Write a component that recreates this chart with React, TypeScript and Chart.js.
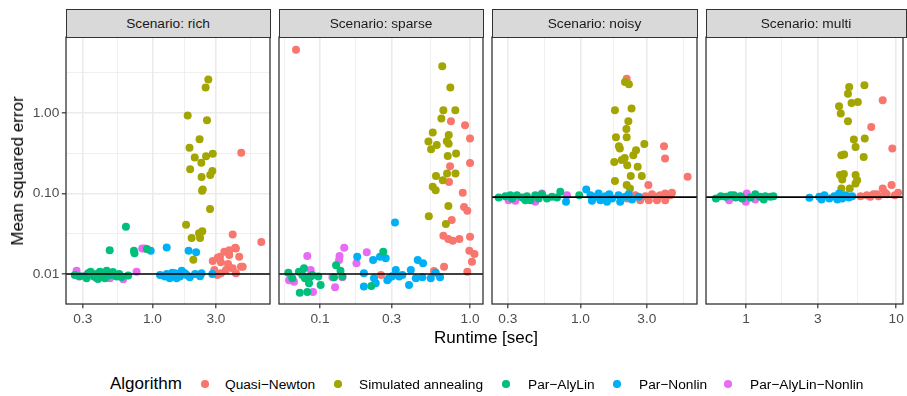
import React, { useEffect, useRef } from "react";
import { Chart, registerables } from "chart.js";
Chart.register(...registerables);

type Pt = [number, number];

const FONT = "'Liberation Sans', Arial, Helvetica, sans-serif";

const ALGORITHMS = ["Quasi−Newton", "Simulated annealing", "Par−AlyLin", "Par−Nonlin", "Par−AlyLin−Nonlin"];
const COLORS = ["#F8766D", "#A3A500", "#00BF7D", "#00B0F6", "#E76BF3"];
const DRAW_ORDER = [4, 3, 1, 2, 5];
const SCENARIOS = ["Scenario: rich", "Scenario: sparse", "Scenario: noisy", "Scenario: multi"];
const REFERENCE_MSE = [0.01, 0.01, 0.09, 0.09];

const Y_MIN = 0.00425;
const Y_MAX = 8.74;
const Y_MAJOR = [0.01, 0.1, 1];
const Y_LABELS = ["0.01", "0.10", "1.00"];
const Y_MINOR = [0.0316, 0.316, 3.16];

const X_MIN = [0.224, 0.0533, 0.231, 0.54];
const X_MAX = [7.65, 1.22, 6.89, 11.1];
const X_MAJOR = [[0.3, 1, 3], [0.1, 0.3, 1], [0.3, 1, 3], [1, 3, 10]];
const X_LABELS = [["0.3", "1.0", "3.0"], ["0.1", "0.3", "1.0"], ["0.3", "1.0", "3.0"], ["1", "3", "10"]];
const X_MINOR = [[0.548, 1.73, 5.48], [0.0578, 0.173, 0.548], [0.548, 1.73, 5.48], [1.73, 5.48]];

// ---- rich ----
const richQN: Pt[] = [[4.65,0.32],[6.58,0.025],[4.01,0.031],[4.19,0.0212],[3.78,0.0198],[4.49,0.0164],[3.09,0.0159],[2.84,0.0145],[3.27,0.014],[4.63,0.0123],[4.01,0.0118],[3.57,0.0112],[2.92,0.0112],[3.27,0.0102],[4.24,0.0102],[3.78,0.0172],[3.47,0.0189],[3.07,0.0097],[4.24,0.0208],[4.77,0.0123],[3.22,0.0164],[3.7,0.0133]];
const richSA: Pt[] = [[2.63,2.59],[2.51,2.06],[1.84,0.93],[2.57,0.81],[2.26,0.47],[1.9,0.37],[2.08,0.28],[2.33,0.24],[2.53,0.29],[2.84,0.31],[1.92,0.2],[2.82,0.19],[2.72,0.17],[2.34,0.16],[2.36,0.108],[2.39,0.112],[2.71,0.064],[1.79,0.041],[2.37,0.034],[1.97,0.028],[2.28,0.028],[2.03,0.015],[2.24,0.032]];
const richAlyLin: Pt[] = [[0.261,0.0097],[0.285,0.0094],[0.32,0.0089],[0.329,0.0102],[0.343,0.0107],[0.363,0.0093],[0.38,0.01],[0.403,0.0107],[0.415,0.0093],[0.44,0.0089],[0.453,0.011],[0.479,0.0097],[0.505,0.0106],[0.523,0.0096],[0.538,0.0093],[0.563,0.01],[0.59,0.0092],[0.658,0.0096],[0.39,0.0087],[0.632,0.0386],[0.477,0.0198],[0.726,0.0195],[0.733,0.0181],[0.909,0.0204]];
const richNonlin: Pt[] = [[1.28,0.0214],[0.97,0.0195],[1.87,0.0195],[2.13,0.0186],[2.82,0.01],[1.14,0.0097],[1.24,0.0093],[1.28,0.01],[1.35,0.0089],[1.41,0.0104],[1.48,0.0102],[1.52,0.0089],[1.61,0.0093],[1.66,0.011],[1.75,0.0102],[1.81,0.0097],[1.91,0.0091],[2.09,0.01],[2.28,0.0094],[2.34,0.0102]];
const richAlyLinNonlin: Pt[] = [[0.269,0.011],[0.38,0.0089],[0.603,0.0086],[0.76,0.0107],[0.838,0.0208],[0.878,0.0208],[0.28,0.0093],[0.479,0.0089],[0.57,0.0093],[0.31,0.0095],[0.43,0.0091]];

// ---- sparse ----
const sparseQN: Pt[] = [[0.0692,6.08],[0.746,0.787],[0.926,0.7],[1.0,0.48],[0.736,0.218],[1.0,0.239],[0.724,0.139],[0.894,0.102],[0.912,0.068],[0.959,0.061],[0.755,0.0467],[0.664,0.0298],[0.716,0.0272],[0.767,0.0259],[0.849,0.0272],[1.0,0.029],[0.989,0.0195],[1.07,0.0177],[1.03,0.0142],[0.671,0.0123],[0.959,0.0107],[0.255,0.0097],[0.575,0.0109]];
const sparseSA: Pt[] = [[0.653,3.78],[0.739,2.06],[0.664,1.08],[0.798,1.08],[0.644,0.85],[0.564,0.57],[0.721,0.53],[0.528,0.44],[0.6,0.4],[0.7,0.445],[0.55,0.354],[0.72,0.415],[0.807,0.313],[0.71,0.292],[0.593,0.165],[0.658,0.146],[0.703,0.177],[0.8,0.177],[0.564,0.121],[0.59,0.11],[0.717,0.07],[0.531,0.052],[0.69,0.0417]];
const sparseAlyLin: Pt[] = [[0.0615,0.0104],[0.0654,0.0089],[0.0724,0.0107],[0.0782,0.0118],[0.0794,0.0089],[0.0733,0.00586],[0.0845,0.00767],[0.0889,0.0097],[0.0975,0.0093],[0.101,0.0073],[0.0823,0.006],[0.0867,0.0093],[0.0762,0.0097],[0.128,0.0129],[0.124,0.0091],[0.137,0.011],[0.141,0.0093],[0.264,0.0189],[0.22,0.0071]];
const sparseNonlin: Pt[] = [[0.316,0.0437],[0.177,0.0164],[0.226,0.0149],[0.251,0.0164],[0.274,0.0157],[0.448,0.0149],[0.486,0.0136],[0.196,0.0102],[0.229,0.0089],[0.196,0.007],[0.235,0.0077],[0.288,0.0089],[0.32,0.0112],[0.354,0.0097],[0.403,0.0112],[0.392,0.0073],[0.435,0.0089],[0.481,0.0091],[0.547,0.0089],[0.591,0.0104],[0.631,0.0091],[0.281,0.0084],[0.303,0.0094],[0.337,0.0093]];
const sparseAlyLinNonlin: Pt[] = [[0.0823,0.0167],[0.135,0.0167],[0.145,0.0212],[0.205,0.0186],[0.175,0.0136],[0.134,0.0149],[0.0671,0.00803],[0.0898,0.006],[0.126,0.00684],[0.121,0.0091],[0.141,0.0091],[0.0622,0.0084],[0.0867,0.0112]];

// ---- noisy ----
const noisyQN: Pt[] = [[2.15,2.66],[3.99,0.386],[4.06,0.272],[5.9,0.161],[3.08,0.127],[2.16,0.0867],[2.48,0.095],[2.69,0.0826],[2.93,0.0926],[3.27,0.098],[3.55,0.0826],[3.75,0.095],[4.07,0.1],[4.43,0.095],[4.55,0.102],[4.07,0.0826],[3.1,0.0826],[3.65,0.0926]];
const noisySA: Pt[] = [[2.09,2.42],[2.23,2.26],[1.77,1.08],[2.33,1.13],[2.21,0.79],[2.14,0.63],[1.8,0.5],[2.15,0.5],[1.89,0.386],[1.92,0.361],[2.88,0.41],[2.51,0.344],[2.4,0.299],[2.08,0.276],[1.75,0.246],[1.98,0.26],[2.17,0.224],[2.58,0.214],[2.76,0.165],[2.3,0.165],[1.77,0.143],[2.15,0.127],[2.27,0.115]];
const noisyAlyLin: Pt[] = [[0.258,0.0892],[0.288,0.0926],[0.322,0.0867],[0.349,0.095],[0.38,0.0892],[0.412,0.0926],[0.436,0.0826],[0.473,0.095],[0.5,0.0867],[0.528,0.098],[0.574,0.0867],[0.624,0.0908],[0.678,0.0892],[0.716,0.105],[0.98,0.095],[0.401,0.0826],[0.313,0.095]];
const noisyNonlin: Pt[] = [[1.1,0.112],[1.18,0.095],[1.28,0.0908],[1.35,0.1],[1.39,0.0826],[1.51,0.0926],[1.61,0.098],[1.69,0.0867],[1.88,0.095],[1.93,0.0787],[2.1,0.0908],[2.22,0.098],[2.35,0.0843],[2.62,0.0908],[1.21,0.081],[0.787,0.0787],[1.55,0.0787]];
const noisyAlyLinNonlin: Pt[] = [[0.304,0.0826],[0.473,0.0787],[0.528,0.1],[0.8,0.095],[0.34,0.081]];

// ---- multi ----
const multiQN: Pt[] = [[8.13,1.43],[6.82,0.67],[9.42,0.361],[5.78,0.0926],[6.38,0.095],[7.06,0.098],[7.62,0.0926],[8.13,0.115],[8.64,0.098],[9.31,0.127],[9.8,0.095],[10.3,0.102],[6.72,0.0908],[8.43,0.102],[7.43,0.098]];
const multiSA: Pt[] = [[6.14,2.2],[4.86,2.09],[4.77,1.73],[5.55,1.36],[5.04,1.33],[4.16,1.21],[4.27,0.98],[4.77,0.79],[6.17,0.48],[5.22,0.467],[5.36,0.378],[4.31,0.298],[4.5,0.305],[6.07,0.284],[4.22,0.169],[4.48,0.174],[5.36,0.169],[5.49,0.146],[5.36,0.133],[4.37,0.149],[4.31,0.115],[4.9,0.115]];
const multiAlyLin: Pt[] = [[0.629,0.0867],[0.678,0.0926],[0.731,0.0908],[0.789,0.095],[0.851,0.0892],[0.918,0.0926],[1.07,0.0892],[1.15,0.098],[1.24,0.0908],[1.34,0.0926],[1.45,0.0908],[1.52,0.0926],[0.941,0.0867],[0.829,0.095],[1.31,0.0843]];
const multiNonlin: Pt[] = [[2.64,0.0882],[3.07,0.0908],[3.32,0.095],[3.58,0.0867],[3.86,0.0926],[4.16,0.1],[4.37,0.0867],[4.6,0.095],[4.84,0.0892],[5.09,0.0926],[4.05,0.0843],[3.18,0.0843]];
const multiAlyLinNonlin: Pt[] = [[0.769,0.0826],[0.995,0.0787],[1.01,0.1],[0.894,0.0908],[1.15,0.0843]];

const SCENARIO_DATA: Pt[][][] = [
  [richQN, richSA, richAlyLin, richNonlin, richAlyLinNonlin],
  [sparseQN, sparseSA, sparseAlyLin, sparseNonlin, sparseAlyLinNonlin],
  [noisyQN, noisySA, noisyAlyLin, noisyNonlin, noisyAlyLinNonlin],
  [multiQN, multiSA, multiAlyLin, multiNonlin, multiAlyLinNonlin],
];

// layout (page px)
const PANELS = [
  { canvasLeft: 0, canvasWidth: 275, padL: 0, padR: 5, left: 66, right: 270 },
  { canvasLeft: 274, canvasWidth: 214, padL: 5, padR: 5, left: 279, right: 483 },
  { canvasLeft: 487, canvasWidth: 215, padL: 5, padR: 5, left: 492, right: 697 },
  { canvasLeft: 701, canvasWidth: 206, padL: 5, padR: 1, left: 706, right: 906 },
];
const CANVAS_TOP = 30;
const CANVAS_H = 304;

const borderPlugin = {
  id: "panelBorder",
  afterDraw(chart: any) {
    const a = chart.chartArea;
    const c = chart.ctx;
    c.save();
    c.strokeStyle = "#333333";
    c.lineWidth = 1.3;
    c.strokeRect(a.left, a.top, a.right - a.left, a.bottom - a.top);
    c.restore();
  },
};

function Panel({ idx }: { idx: number }) {
  const ref = useRef<HTMLCanvasElement>(null);
  useEffect(() => {
    const p = PANELS[idx];
    const xMajor = X_MAJOR[idx];
    const xLabels = X_LABELS[idx];
    const xTicks = [...xMajor, ...X_MINOR[idx]];
    const yTicks = [...Y_MAJOR, ...Y_MINOR];
    const xMin = X_MIN[idx];
    const xMax = X_MAX[idx];
    const refY = REFERENCE_MSE[idx];
    const showY = idx === 0;
    const datasets: any[] = SCENARIO_DATA[idx].map((pts, i) => ({
      type: "scatter",
      label: ALGORITHMS[i],
      data: pts.map(([x, y]) => ({ x, y })),
      backgroundColor: COLORS[i],
      borderWidth: 0,
      pointRadius: 4,
      order: DRAW_ORDER[i],
    }));
    datasets.push({
      type: "line",
      label: "reference",
      data: [{ x: xMin, y: refY }, { x: xMax, y: refY }],
      borderColor: "#000000",
      borderWidth: 1.6,
      pointRadius: 0,
      order: 0,
    });
    const isMajorIdx = (ctx: any, n: number) => ctx.index < n;
    const chart = new Chart(ref.current as HTMLCanvasElement, {
      type: "scatter",
      data: { datasets },
      plugins: [borderPlugin],
      options: {
        animation: false,
        responsive: false,
        devicePixelRatio: 1,
        layout: { padding: { top: 7, left: p.padL, right: p.padR, bottom: 0 } },
        plugins: { legend: { display: false }, tooltip: { enabled: false } },
        scales: {
          x: {
            type: "logarithmic",
            min: xMin,
            max: xMax,
            bounds: "data",
            afterBuildTicks: (s: any) => { s.ticks = xTicks.map((v) => ({ value: v })); },
            afterFit: (s: any) => { s.height = 30; s.paddingLeft = 0; s.paddingRight = 0; },
            ticks: {
              autoSkip: false,
              maxRotation: 0,
              minRotation: 0,
              color: "#4D4D4D",
              padding: 3,
              font: { family: FONT, size: 13.7 },
              callback: (_v: any, i: number) => (i < xLabels.length ? xLabels[i] : ""),
            },
            grid: {
              color: "#EBEBEB",
              lineWidth: (ctx: any) => (isMajorIdx(ctx, xMajor.length) ? 1.6 : 0.8),
              tickColor: (ctx: any) => (isMajorIdx(ctx, xMajor.length) ? "#333333" : "rgba(0,0,0,0)"),
              tickLength: 4.2,
              tickWidth: 1.2,
              drawTicks: true,
            },
            border: { display: false },
          },
          y: {
            type: "logarithmic",
            display: showY,
            min: Y_MIN,
            max: Y_MAX,
            bounds: "data",
            afterBuildTicks: (s: any) => { s.ticks = yTicks.map((v) => ({ value: v })); },
            afterFit: (s: any) => {
              s.width = showY ? 66 : 0;
              s.paddingTop = 0;
              s.paddingBottom = 0;
            },
            ticks: {
              autoSkip: false,
              color: "#4D4D4D",
              padding: 2.5,
              font: { family: FONT, size: 13.7 },
              callback: (_v: any, i: number) => (i < Y_LABELS.length ? Y_LABELS[i] : ""),
            },
            grid: {
              color: "#EBEBEB",
              lineWidth: (ctx: any) => (isMajorIdx(ctx, Y_MAJOR.length) ? 1.6 : 0.8),
              tickColor: (ctx: any) => (isMajorIdx(ctx, Y_MAJOR.length) ? "#333333" : "rgba(0,0,0,0)"),
              tickLength: 4.2,
              tickWidth: 1.2,
              drawTicks: true,
            },
            border: { display: false },
          },
        },
      } as any,
    });
    return () => chart.destroy();
  }, [idx]);
  const p = PANELS[idx];
  return (
    <canvas
      ref={ref}
      width={p.canvasWidth}
      height={CANVAS_H}
      style={{ position: "absolute", left: p.canvasLeft, top: CANVAS_TOP, width: p.canvasWidth, height: CANVAS_H, display: "block" }}
    />
  );
}

const LEGEND_DOT_X = [205, 338, 506, 617, 728];
const LEGEND_TEXT_X = [225, 359, 528, 639, 750];

export default function App() {
  return (
    <div style={{ position: "absolute", left: 0, top: 0, width: 907, height: 396, background: "#FFFFFF", fontFamily: FONT, overflow: "hidden" }}>
      {PANELS.map((_, i) => <Panel key={i} idx={i} />)}
      {PANELS.map((p, i) => (
        <div
          key={"s" + i}
          style={{
            position: "absolute", left: p.left - 0.5, top: 9, width: p.right - p.left + 1, height: 29,
            boxSizing: "border-box", background: "#D9D9D9", border: "1px solid #333333",
            color: "#1A1A1A", fontSize: 13.7, lineHeight: "27px", textAlign: "center", whiteSpace: "nowrap",
          }}
        >
          {SCENARIOS[i]}
        </div>
      ))}
      <div style={{ position: "absolute", left: 18, top: 171, transform: "translate(-50%, -50%) rotate(-90deg)", fontSize: 17, whiteSpace: "nowrap", color: "#000" }}>
        Mean squared error
      </div>
      <div style={{ position: "absolute", left: 486, top: 338, transform: "translate(-50%, -50%)", fontSize: 17, whiteSpace: "nowrap", color: "#000" }}>
        Runtime [sec]
      </div>
      <div style={{ position: "absolute", left: 110, top: 384, transform: "translateY(-50%)", fontSize: 17, whiteSpace: "nowrap", color: "#000" }}>
        Algorithm
      </div>
      {ALGORITHMS.map((a, i) => (
        <React.Fragment key={"l" + i}>
          <div style={{ position: "absolute", left: LEGEND_DOT_X[i] - 3.8, top: 384 - 3.8, width: 7.6, height: 7.6, borderRadius: "50%", background: COLORS[i] }} />
          <div style={{ position: "absolute", left: LEGEND_TEXT_X[i], top: 384, transform: "translateY(-50%)", fontSize: 13.7, whiteSpace: "nowrap", color: "#000" }}>
            {a}
          </div>
        </React.Fragment>
      ))}
    </div>
  );
}
